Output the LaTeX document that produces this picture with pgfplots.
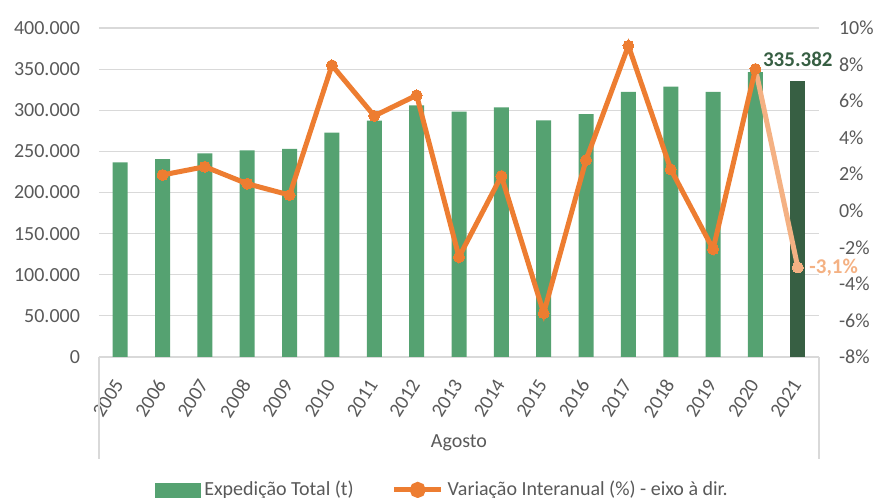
\documentclass[border=0pt]{standalone}
\usepackage{fontspec}
\setmainfont{Carlito}
\usepackage{pgfplots}
\pgfplotsset{compat=1.18}
\definecolor{barg}{HTML}{55A271}
\definecolor{bard}{HTML}{375F43}
\definecolor{lineo}{HTML}{ED7D31}
\definecolor{peach}{HTML}{F4B183}
\definecolor{gridc}{HTML}{D9D9D9}
\definecolor{txt}{HTML}{595959}
\newcommand\tf{\fontsize{10}{12}\selectfont}
\begin{document}
\begin{tikzpicture}
\useasboundingbox (-49.5pt,-70.5pt) rectangle (387.5pt,178.5pt);
\begin{axis}[
  scale only axis, width=360pt, height=164.5pt,
  xmin=2004.5, xmax=2021.5,
  ymin=0, ymax=400000,
  ytick={0,50000,...,400000},
  xtick={2005,...,2021},
  scaled y ticks=false,
  /pgf/number format/.cd, fixed, 1000 sep={.}, assume math mode=true, /pgfplots/.cd,
  every tick label/.append style={font=\tf, text=txt},
  x tick label style={xshift=0pt, yshift=-11pt, rotate=58, anchor=east, inner sep=1pt, /pgf/number format/1000 sep={}},
  yticklabel style={xshift=-6pt},
  axis x line*=bottom, axis y line*=left,
  x axis line style={-, gridc, line width=0.75pt},
  y axis line style={draw=none},
  major tick length=0pt,
  ymajorgrids, grid style={gridc, line width=0.6pt},
  clip=false,
  ybar, bar width=7.5pt,
]
\addplot[fill=barg, draw=none, bar shift=0pt] coordinates {
(2005,236700) (2006,240700) (2007,247600) (2008,251300) (2009,252900)
(2010,272700) (2011,287300) (2012,306000) (2013,298200) (2014,303600)
(2015,287800) (2016,295400) (2017,322200) (2018,328600) (2019,322200)
(2020,346500)};
\addplot[fill=bard, draw=none, bar shift=0pt, nodes near coords,
  every node near coord/.append style={font=\fontsize{10.5}{12}\selectfont\bfseries, text=bard, yshift=3.5pt}]
  coordinates {(2021,335382)};
\draw[gridc, line width=0.75pt] (axis description cs:0,0) -- (axis description cs:0,-0.31);
\draw[gridc, line width=0.75pt] (axis description cs:1,0) -- (axis description cs:1,-0.31);
\node[text=txt, font=\tf] at (axis description cs:0.5,-0.261) {Agosto};
\end{axis}
\begin{axis}[
  scale only axis, width=360pt, height=164.5pt,
  xmin=2004.5, xmax=2021.5,
  ymin=-8, ymax=10, ytick={-8,-6,...,10},
  axis y line*=right, axis x line=none,
  y axis line style={draw=none},
  major tick length=0pt,
  /pgf/number format/assume math mode=true,
  yticklabel={\pgfmathprintnumber{\tick}\%},
  yticklabel style={font=\tf, text=txt, xshift=6.5pt},
  clip=false,
  legend columns=2,
  legend style={at={(axis description cs:0.478,-0.404)}, anchor=center, draw=none, fill=none,
    font=\tf, text=txt, /tikz/every even column/.append style={column sep=17pt}},
  legend cell align=left,
]
\addlegendimage{legend image code/.code={\fill[barg] (0pt,-3.5pt) rectangle (22.5pt,3.5pt);}}
\addlegendentry{Expedição Total (t)}
\addplot[peach, line width=2.5pt, forget plot] coordinates {(2020,7.76) (2021,-3.1)};
\addplot[lineo, line width=2.5pt, mark=*, mark size=2.75pt, mark options={solid, fill=lineo, draw=lineo, line width=0pt},
  legend image code/.code={\draw[lineo, line width=2.5pt] (0pt,0pt) -- (23.5pt,0pt); \fill[lineo] (11.75pt,0pt) circle (2.75pt);}]
  coordinates {(2006,1.96) (2007,2.41) (2008,1.48) (2009,0.86) (2010,7.96) (2011,5.19) (2012,6.32)
  (2013,-2.53) (2014,1.9) (2015,-5.6) (2016,2.78) (2017,9.03) (2018,2.27) (2019,-2.1) (2020,7.76)};
\addlegendentry{Variação Interanual (\%) - eixo à dir.}
\addplot[only marks, mark=*, mark size=2.75pt, peach, mark options={fill=peach, draw=peach, line width=0pt}, forget plot,
  point meta=y,
  nodes near coords={\pgfmathprintnumber[fixed, precision=1, use comma]{\pgfplotspointmeta}\%},
  nodes near coords align={anchor=west},
  every node near coord/.append style={font=\fontsize{10.5}{12}\selectfont\bfseries, text=peach, xshift=2.5pt}]
  coordinates {(2021,-3.1)};
\end{axis}
\end{tikzpicture}
\end{document}
